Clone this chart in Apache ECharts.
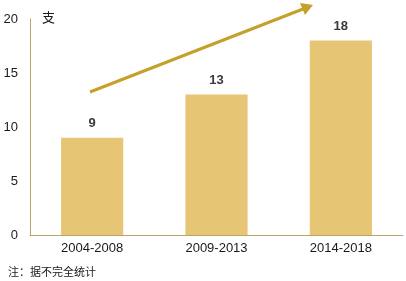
<!DOCTYPE html>
<html><head><meta charset="utf-8">
<script src="https://cdn.jsdelivr.net/npm/echarts@6/dist/echarts.min.js"></script>
<style>html,body{margin:0;padding:0;background:#fff}#c{width:406px;height:281px}</style>
</head><body><div id="c"></div>
<script>
const categories = ['2004-2008', '2009-2013', '2014-2018'];
const values = [9, 13, 18];
const yTicks = [0, 5, 10, 15, 20];
const unitLabel = '支';
const noteText = '注：据不完全统计';

const chart = echarts.init(document.getElementById('c'), null, {renderer: 'canvas'});
const font = '"Liberation Sans", Arial, "Noto Sans CJK SC", sans-serif';
const option = {
  animation: false,
  grid: {left: 30, right: 3, top: 19, bottom: 46},
  xAxis: {
    type: 'category', data: categories,
    axisLine: {lineStyle: {color: '#B9A46A', width: 1}},
    axisTick: {show: false},
    axisLabel: {color: '#1a1a1a', fontSize: 13, fontFamily: font, margin: 7}
  },
  yAxis: {
    type: 'value', min: yTicks[0], max: yTicks[yTicks.length - 1], interval: 5,
    axisLine: {show: true, lineStyle: {color: '#B9A46A', width: 1}},
    axisTick: {show: false},
    splitLine: {show: false},
    axisLabel: {color: '#1a1a1a', fontSize: 13, fontFamily: font, margin: 12}
  },
  series: [{
    type: 'bar', data: values, barWidth: '50%',
    itemStyle: {color: '#E6C574'},
    label: {show: true, position: 'top', distance: 8, color: '#3a3a3a', fontSize: 13, fontWeight: 'bold', fontFamily: font}
  }],
  graphic: [
    {type: 'text', left: 42, top: 11, style: {text: unitLabel, fontSize: 13, fill: '#1a1a1a', fontFamily: '"Noto Sans CJK SC", sans-serif'}},
    {type: 'text', left: 8, top: 266, style: {text: noteText, fontSize: 11, fill: '#1a1a1a', fontFamily: '"Noto Sans CJK SC", sans-serif'}},
    {type: 'line', shape: {x1: 90, y1: 92, x2: 303, y2: 9}, style: {stroke: '#C3A12B', lineWidth: 3}},
    {type: 'polygon', shape: {points: [[313, 5], [300, 3], [305, 15]]}, style: {fill: '#C3A12B'}}
  ]
};
chart.setOption(option);
</script></body></html>
